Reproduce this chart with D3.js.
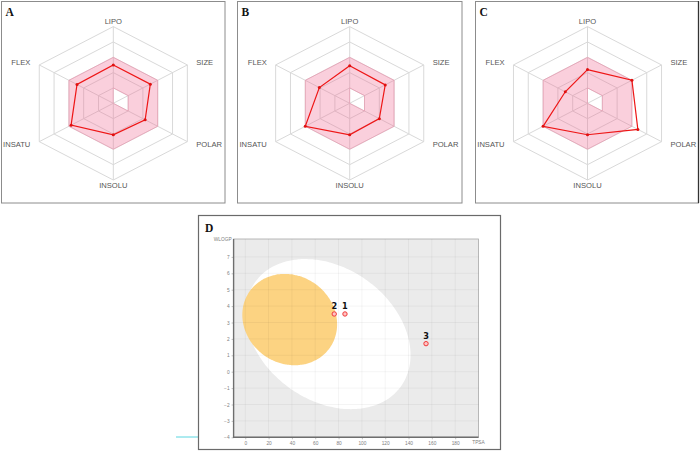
<!DOCTYPE html>
<html><head><meta charset="utf-8">
<script src="https://cdn.jsdelivr.net/npm/d3@7"></script>
<style>body{margin:0;background:#fff}svg{display:block}</style>
</head><body><svg id="c" width="700" height="451"></svg>
<script>
// ---------- data ----------
const radarAxes = ["LIPO","SIZE","POLAR","INSOLU","INSATU","FLEX"];
const radarA = [0.50, 0.50, 0.43, 0.41, 0.57, 0.49];
const radarB = [0.49, 0.48, 0.40, 0.41, 0.60, 0.41];
const radarC = [0.44, 0.60, 0.68, 0.41, 0.60, 0.30];
const optimalMin = [0.2, 0.2, 0.2, 0.0, 0.0, 0.0];
const optimalMax = [0.6, 0.6, 0.6, 0.6, 0.6, 0.6];
const ringLevels = [0.2, 0.4, 0.6, 0.8, 1.0];
const panelNames = ["A","B","C","D"];

const compoundIds = ["1","2","3"];
const compoundTPSA = [85.5, 76.3, 155.0];
const compoundWLOGP = [3.52, 3.52, 1.71];
const xTicks = [0,20,40,60,80,100,120,140,160,180];
const yTicks = [-4,-3,-2,-1,0,1,2,3,4,5,6,7];
const xDomain = [-10, 200];
const yDomain = [-4, 8];
const xAxisTitle = "TPSA", yAxisTitle = "WLOGP";
// egg ellipses: centre and conjugate semi-diameters (TPSA, WLOGP units)
const whiteCentre = [71.051, 2.292], whiteU = [62.4, -3.19], whiteV = [-33.2, -3.28];
const yolkCentre = [38.117, 3.177], yolkU = [34.5, -1.71], yolkV = [-21.5, -2.20];

// ---------- drawing ----------
const svg = d3.select("#c");
const FONT = "'Liberation Sans', Arial, sans-serif";

function radar(cx, cy, vals, name, box) {
  const g = svg.append("g");
  g.append("rect").attr("x", box[0]).attr("y", box[1]).attr("width", box[2]).attr("height", box[3])
    .attr("fill", "#fff").attr("stroke", "#8c8c8c").attr("stroke-width", 1);
  const rX = d3.scaleLinear().domain([0,1]).range([0, 85.5]);
  const rY = d3.scaleLinear().domain([0,1]).range([0, 76.7]);
  const ang = i => (-90 + 60*i) * Math.PI / 180;
  const pt = (v, i) => [cx + rX(v)*Math.cos(ang(i)), cy + rY(v)*Math.sin(ang(i))];
  const closed = d3.line().curve(d3.curveLinearClosed);
  ringLevels.forEach(l => {
    g.append("path").attr("d", closed(radarAxes.map((a,i) => pt(l,i))))
      .attr("fill", "none").attr("stroke", "#d9d9d9").attr("stroke-width", 1);
  });
  radarAxes.forEach((a,i) => {
    const p = pt(1,i);
    g.append("line").attr("x1", cx).attr("y1", cy).attr("x2", p[0]).attr("y2", p[1])
      .attr("stroke", "#d9d9d9").attr("stroke-width", 1);
  });
  const outer = closed(optimalMax.map((v,i) => pt(v,i)));
  const inner = closed(optimalMin.map((v,i) => pt(v,i)));
  g.append("path").attr("d", outer + inner).attr("fill-rule", "evenodd")
    .attr("fill", "rgb(240,110,150)").attr("fill-opacity", 0.33)
    .attr("stroke", "rgb(240,120,155)").attr("stroke-opacity", 0.45).attr("stroke-width", 0.8);
  g.append("path").attr("d", closed(vals.map((v,i) => pt(v,i))))
    .attr("fill", "none").attr("stroke", "#ee1616").attr("stroke-width", 1.2);
  vals.forEach((v,i) => {
    const p = pt(v,i);
    g.append("circle").attr("cx", p[0]).attr("cy", p[1]).attr("r", 1.5).attr("fill", "#e01010");
  });
  radarAxes.forEach((a,i) => {
    const c = Math.cos(ang(i)), s = Math.sin(ang(i));
    const x = cx + rX(1.12)*c, y = cy + rY(1.075)*s;
    g.append("text").attr("x", x).attr("y", y).attr("dy", "0.35em")
      .attr("text-anchor", Math.abs(c) < 0.1 ? "middle" : (c > 0 ? "start" : "end"))
      .attr("font-family", FONT).attr("font-size", 7.6).attr("fill", "#555").text(a);
  });
  g.append("text").attr("x", box[0] + 4).attr("y", box[1] + 14.5)
    .attr("font-family", "'Liberation Serif', 'Times New Roman', serif").attr("font-weight", "bold")
    .attr("font-size", 11.5).attr("fill", "#111").text(name);
  return g;
}

radar(113.3, 103.3, radarA, panelNames[0], [1.5, 1.5, 223.5, 201.5]);
radar(349.7, 103.3, radarB, panelNames[1], [237.5, 1.5, 224.5, 201.5]);
const gc = radar(587.5, 103.3, radarC, panelNames[2], [475.5, 1.5, 223, 201.5]);
gc.append("line").attr("x1", 698.5).attr("x2", 698.5).attr("y1", 1).attr("y2", 203)
  .attr("stroke", "#333").attr("stroke-width", 1.3);

// ---------- panel D : BOILED-Egg ----------
const gd = svg.append("g");
gd.append("line").attr("x1", 176).attr("x2", 207).attr("y1", 437).attr("y2", 437)
  .attr("stroke", "#5ad6e0").attr("stroke-width", 1);
gd.append("rect").attr("x", 198.5).attr("y", 215.5).attr("width", 302).attr("height", 234)
  .attr("fill", "#fff").attr("stroke", "#6a6a6a").attr("stroke-width", 1.2);
gd.append("text").attr("x", 205).attr("y", 232)
  .attr("font-family", "'Liberation Serif', 'Times New Roman', serif").attr("font-weight", "bold")
  .attr("font-size", 11.5).attr("fill", "#111").text(panelNames[3]);

const x = d3.scaleLinear().domain(xDomain).range([233.6, 478.5]);
const y = d3.scaleLinear().domain(yDomain).range([437.3, 240.5]);
const [x0, x1] = x.range(), [y0, y1] = y.range();
gd.append("rect").attr("x", x0).attr("y", y1 - 1.5).attr("width", x1 - x0).attr("height", y0 - y1 + 1.5)
  .attr("fill", "#ebebeb").attr("stroke", "#a8a8a8").attr("stroke-width", 0.8);

function ellipsePath(c, u, v) {
  const pts = d3.range(0, 360, 2).map(dg => {
    const t = dg * Math.PI / 180;
    return [x(c[0] + u[0]*Math.cos(t) + v[0]*Math.sin(t)), y(c[1] + u[1]*Math.cos(t) + v[1]*Math.sin(t))];
  });
  return d3.line().curve(d3.curveCardinalClosed)(pts);
}
gd.append("path").attr("d", ellipsePath(whiteCentre, whiteU, whiteV)).attr("fill", "#ffffff");
gd.append("path").attr("d", ellipsePath(yolkCentre, yolkU, yolkV)).attr("fill", "#fcd382");

xTicks.forEach(t => gd.append("line").attr("x1", x(t)).attr("x2", x(t)).attr("y1", y1 - 1.5).attr("y2", y0)
  .attr("stroke", "#000").attr("stroke-opacity", 0.06).attr("stroke-width", 0.8));
yTicks.forEach(t => gd.append("line").attr("x1", x0).attr("x2", x1).attr("y1", y(t)).attr("y2", y(t))
  .attr("stroke", "#000").attr("stroke-opacity", 0.06).attr("stroke-width", 0.8));

const xAxis = d3.axisBottom(x).tickValues(xTicks).tickSize(2).tickPadding(2).tickFormat(d3.format("d"));
const yAxis = d3.axisLeft(y).tickValues(yTicks).tickSize(2).tickPadding(2).tickFormat(d3.format("d"));
const gx = gd.append("g").attr("transform", `translate(0,${y0})`).call(xAxis);
const gy = gd.append("g").attr("transform", `translate(${x0},0)`).call(yAxis);
[gx, gy].forEach(a => {
  a.select(".domain").remove();
  a.selectAll(".tick line").attr("stroke", "#999").attr("stroke-width", 0.6);
  a.selectAll(".tick text").attr("fill", "#808080").attr("font-size", 4.8).attr("font-family", FONT);
});
gd.append("line").attr("x1", x0).attr("x2", x0).attr("y1", y1 - 1.5).attr("y2", y0 + 0.5)
  .attr("stroke", "#6e6e6e").attr("stroke-width", 1.4);
gd.append("line").attr("x1", x0 - 0.5).attr("x2", x1).attr("y1", y0).attr("y2", y0)
  .attr("stroke", "#6e6e6e").attr("stroke-width", 1.4);
gd.append("text").attr("x", x(xDomain[1])).attr("y", y0 + 6.3).attr("text-anchor", "middle")
  .attr("font-family", FONT).attr("font-size", 4.8).attr("fill", "#808080").text(xAxisTitle);
gd.append("text").attr("x", x0 - 2).attr("y", y1 + 0.5).attr("text-anchor", "end")
  .attr("font-family", FONT).attr("font-size", 4.8).attr("fill", "#808080").text(yAxisTitle);

compoundIds.forEach((id, i) => {
  const px = x(compoundTPSA[i]), py = y(compoundWLOGP[i]);
  gd.append("circle").attr("cx", px).attr("cy", py).attr("r", 2.2)
    .attr("fill", "#ffc4c4").attr("stroke", "#f03a3a").attr("stroke-width", 1);
  gd.append("text").attr("x", px).attr("y", py - 4.5).attr("text-anchor", "middle")
    .attr("font-family", "'DejaVu Sans', sans-serif").attr("font-weight", "bold")
    .attr("font-size", 8.2).attr("fill", "#111").text(id);
});
</script></body></html>
